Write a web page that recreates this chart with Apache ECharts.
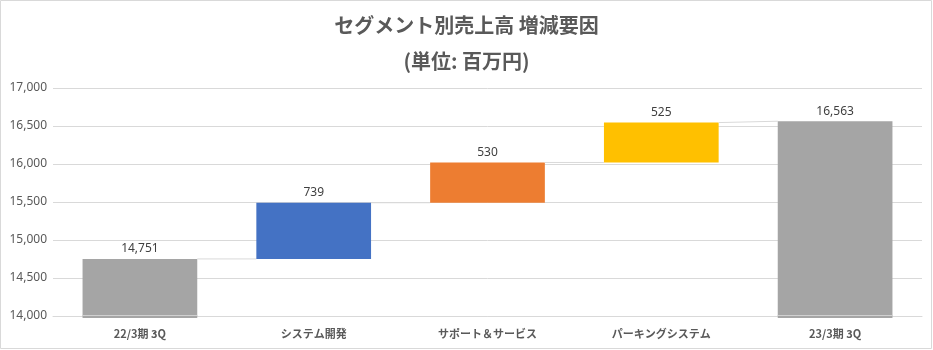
<!DOCTYPE html>
<html>
<head>
<meta charset="utf-8">
<script src="https://cdn.jsdelivr.net/npm/echarts@6/dist/echarts.min.js"></script>
<style>
  html, body { margin: 0; padding: 0; background: #fff; }
  #chart { width: 933px; height: 350px; }
</style>
</head>
<body>
<div id="chart"></div>
<script>
// Segment sales bridge (million yen)
const categories = ['22/3期 3Q', 'システム開発', 'サポート＆サービス', 'パーキングシステム', '23/3期 3Q'];
const values = [14751, 739, 530, 525, 16563];
const isTotal = [true, false, false, false, true];
const yTicks = { min: 14000, max: 17000, interval: 500 };

const barColors = ['#A5A5A5', '#4472C4', '#ED7D31', '#FFC000', '#A5A5A5'];
const FONT = '"Noto Sans CJK JP", "Noto Sans", sans-serif';
const NUM_FONT = '"Noto Sans", sans-serif';

// Build start/end for each bar of the waterfall
const rows = [];
let running = 0;
values.forEach((v, i) => {
  if (isTotal[i]) {
    rows.push([i, 0, v, v]);
    running = v;
  } else {
    rows.push([i, running, running + v, v]);
    running += v;
  }
});

// Value where the connector arriving at bar i lands
function connectorTarget(i) {
  return isTotal[i] ? rows[i][2] : rows[i][1];
}

const chart = echarts.init(document.getElementById('chart'));
chart.setOption({
  animation: false,
  title: [
    { text: 'セグメント別売上高 増減要因', left: 'center', top: 10,
      textStyle: { fontFamily: FONT, fontSize: 20, fontWeight: 'bold', color: '#595959' } },
    { text: '(単位: 百万円)', left: 'center', top: 46,
      textStyle: { fontFamily: FONT, fontSize: 20, fontWeight: 'bold', color: '#595959' } }
  ],
  graphic: [{
    type: 'rect', shape: { x: 0.5, y: 0.5, width: 931, height: 348 },
    style: { fill: 'none', stroke: '#D9D9D9', lineWidth: 1 }, silent: true, z: -1
  }],
  grid: { left: 53, right: 11, top: 88, bottom: 34 },
  xAxis: {
    type: 'category',
    data: categories,
    axisTick: { show: false },
    axisLine: { lineStyle: { color: '#D9D9D9' } },
    axisLabel: { fontFamily: FONT, fontSize: 11, fontWeight: 'bold', color: '#595959', margin: 12 }
  },
  yAxis: {
    type: 'value',
    min: yTicks.min, max: yTicks.max, interval: yTicks.interval,
    axisLine: { show: false },
    axisTick: { show: false },
    splitLine: { lineStyle: { color: '#D9D9D9' } },
    axisLabel: {
      fontFamily: NUM_FONT, fontSize: 12, color: '#595959', margin: 6,
      formatter: v => v.toLocaleString('en-US')
    }
  },
  series: [{
    type: 'custom',
    clip: false,
    data: rows,
    encode: { x: 0, y: [1, 2] },
    renderItem: function (params, api) {
      const i = api.value(0);
      const lo = api.value(1), hi = api.value(2), lbl = api.value(3);
      const band = api.size([1, 0])[0];
      const w = band * 0.66;
      const pTop = api.coord([i, hi]);
      const pBot = api.coord([i, Math.max(lo, yTicks.min)]);
      const cs = params.coordSys;
      const axisY = cs.y + cs.height;
      // totals run past the axis floor by a hair, as they start from zero
      const bottom = isTotal[i] ? axisY + 2 : pBot[1];
      const x0 = pTop[0] - w / 2;
      const children = [{
        type: 'rect',
        shape: { x: x0, y: pTop[1], width: w, height: bottom - pTop[1] },
        style: { fill: barColors[i] }
      }, {
        type: 'text',
        style: {
          text: lbl.toLocaleString('en-US'),
          x: pTop[0], y: pTop[1] - 4,
          align: 'center', verticalAlign: 'bottom',
          fontFamily: NUM_FONT, fontSize: 12, fill: '#404040'
        }
      }];
      if (isTotal[i]) {
        children.push({
          type: 'line',
          shape: { x1: x0, y1: axisY - 0.5, x2: x0 + w, y2: axisY - 0.5 },
          style: { stroke: '#D0D0D0', lineWidth: 1 }
        });
      }
      if (i < rows.length - 1) {
        const nxt = api.coord([i + 1, connectorTarget(i + 1)]);
        children.push({
          type: 'line',
          shape: { x1: x0 + w, y1: pTop[1], x2: nxt[0] - w / 2, y2: nxt[1] },
          style: { stroke: '#D9D9D9', lineWidth: 1 }
        });
      }
      return { type: 'group', children: children };
    }
  }]
});
</script>
</body>
</html>
